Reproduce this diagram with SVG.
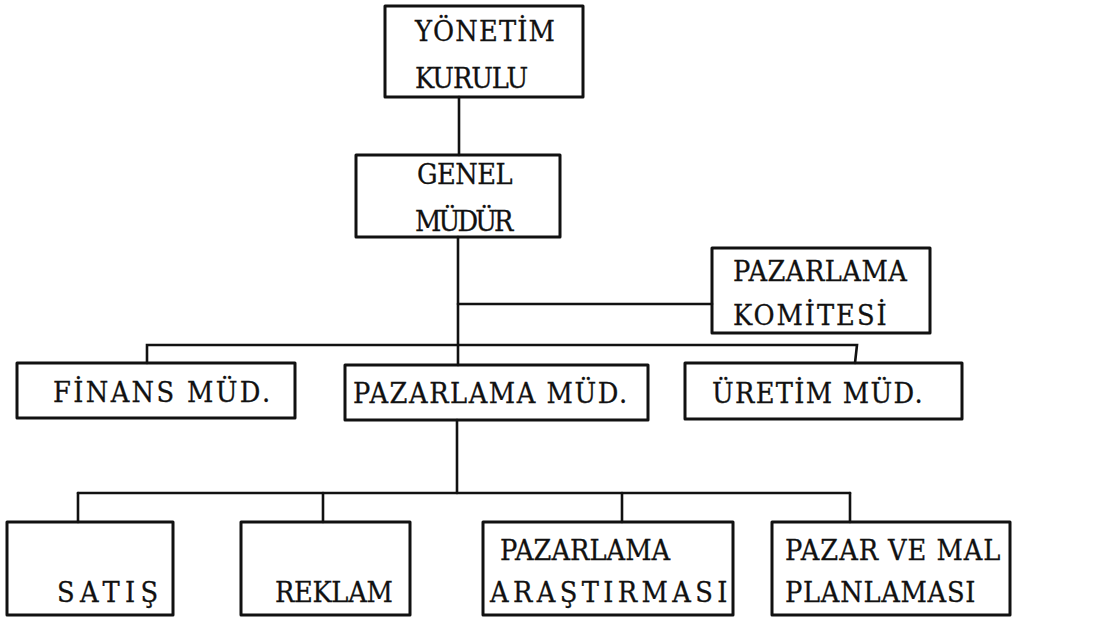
<svg xmlns="http://www.w3.org/2000/svg" width="1093" height="622" viewBox="0 0 1093 622">
<style>
.box{fill:none;stroke:#111;stroke-width:3;stroke-linejoin:round}
.ln{fill:none;stroke:#111;stroke-width:2.6;stroke-linecap:round}
text{font-family:"DejaVu Serif","Liberation Serif",serif;font-size:28px;fill:#111;stroke:#111;stroke-width:0.3}
</style>
<rect width="1093" height="622" fill="#fff"/>
<g id="connectors">
<line class="ln" x1="459" y1="97" x2="459" y2="155"/>
<line class="ln" x1="458" y1="237" x2="458" y2="365"/>
<line class="ln" x1="458" y1="304" x2="712" y2="304"/>
<polyline class="ln" points="147,363 147,345 857,345 855,363"/>
<line class="ln" x1="457" y1="420" x2="457" y2="493"/>
<line class="ln" x1="78" y1="493" x2="850" y2="493"/>
<line class="ln" x1="78" y1="493" x2="78" y2="522"/>
<line class="ln" x1="323" y1="493" x2="323" y2="522"/>
<line class="ln" x1="622" y1="493" x2="622" y2="522"/>
<line class="ln" x1="850" y1="493" x2="850" y2="522"/>
</g>
<g id="yonetim-kurulu">
<rect class="box" x="385" y="6" width="198" height="91"/>
<text transform="translate(415,41) scale(0.92,1)" textLength="152" lengthAdjust="spacing">YÖNETİM</text>
<text transform="translate(415,88) scale(0.92,1)" textLength="123" lengthAdjust="spacing">KURULU</text>
</g>
<g id="genel-mudur">
<rect class="box" x="356" y="155" width="204" height="82"/>
<text transform="translate(417,184) scale(0.92,1)" textLength="104" lengthAdjust="spacing">GENEL</text>
<text transform="translate(415,231) scale(0.92,1)" textLength="107" lengthAdjust="spacing">MÜDÜR</text>
</g>
<g id="pazarlama-komitesi">
<rect class="box" x="712" y="248" width="218" height="85"/>
<text transform="translate(733,281) scale(0.92,1)" textLength="189" lengthAdjust="spacing">PAZARLAMA</text>
<text transform="translate(733,325) scale(0.92,1)" textLength="167" lengthAdjust="spacing">KOMİTESİ</text>
</g>
<g id="finans-mud">
<rect class="box" x="17" y="363" width="278" height="55"/>
<text transform="translate(53,402) scale(0.92,1)" textLength="236" lengthAdjust="spacing">FİNANS MÜD.</text>
</g>
<g id="pazarlama-mud">
<rect class="box" x="345" y="365" width="303" height="55"/>
<text transform="translate(353,403) scale(0.92,1)" textLength="298" lengthAdjust="spacing">PAZARLAMA MÜD.</text>
</g>
<g id="uretim-mud">
<rect class="box" x="685" y="363" width="277" height="56"/>
<text transform="translate(712,403) scale(0.92,1)" textLength="229" lengthAdjust="spacing">ÜRETİM MÜD.</text>
</g>
<g id="satis">
<rect class="box" x="7" y="522" width="166" height="93"/>
<text transform="translate(57,602) scale(0.92,1)" textLength="110" lengthAdjust="spacing">SATIŞ</text>
</g>
<g id="reklam">
<rect class="box" x="241" y="522" width="169" height="93"/>
<text transform="translate(275,602) scale(0.92,1)" textLength="128" lengthAdjust="spacing">REKLAM</text>
</g>
<g id="pazarlama-arastirmasi">
<rect class="box" x="483" y="522" width="250" height="93"/>
<text transform="translate(500,560) scale(0.92,1)" textLength="185" lengthAdjust="spacing">PAZARLAMA</text>
<text transform="translate(490,602) scale(0.92,1)" textLength="258" lengthAdjust="spacing">ARAŞTIRMASI</text>
</g>
<g id="pazar-ve-mal-planlamasi">
<rect class="box" x="772" y="522" width="238" height="93"/>
<text transform="translate(785,560) scale(0.92,1)" textLength="234" lengthAdjust="spacing">PAZAR VE MAL</text>
<text transform="translate(785,602) scale(0.92,1)" textLength="207" lengthAdjust="spacing">PLANLAMASI</text>
</g>
</svg>
